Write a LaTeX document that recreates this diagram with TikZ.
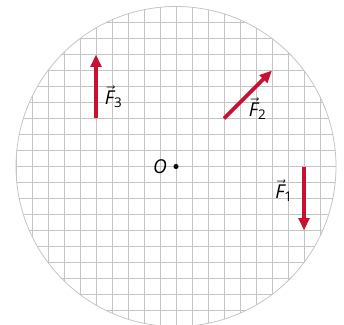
\documentclass[tikz,border=0pt]{standalone}
\usepackage{amsmath}
\usepackage{fontspec}
\setmainfont{Open Sans}
\usepackage{tikz}
\usetikzlibrary{arrows.meta, positioning}
\usepackage{xcolor}
\definecolor{forcered}{RGB}{200,16,50}
\definecolor{gridgray}{RGB}{196,196,196}
\newcommand{\fvec}[1]{$\vec{\textit{F}}_{\text{#1}}$}

\begin{document}
\begin{tikzpicture}[x=0.5cm, y=0.5cm,
  force/.style={line width=3.4pt, forcered, -{Triangle[length=11pt, width=9.5pt]}},
  flabel/.style={font=\fontsize{17}{20}\selectfont}]
  \useasboundingbox (-11,-9.844) rectangle (10.5,10.406);
  % disc with grid
  \begin{scope}
    \clip (0,0) circle (10);
    \draw[gridgray, line width=0.7pt, step=0.5cm] (-11,-11) grid (11,11);
  \end{scope}
  \draw[gridgray, line width=0.7pt] (0,0) circle (10);
  % point O
  \node[circle, fill=black, inner sep=0pt, minimum size=4.5pt] (o) at (0,0) {};
  \node[flabel, left=2pt of o] (olab) {\textit{O}};
  % forces
  \coordinate (f1a) at (8,0);
  \coordinate (f1b) at (8,-4);
  \coordinate (f2a) at (3,3);
  \coordinate (f2b) at (6,6);
  \coordinate (f3a) at (-5,3);
  \coordinate (f3b) at (-5,7);
  \draw[force] (f1a) -- (f1b);
  \draw[force] (f2a) -- (f2b);
  \draw[force] (f3a) -- (f3b);
  \node[flabel] (f1lab) at (6.75,-1.5) {\fvec{1}};
  \node[flabel] (f2lab) at (5.1,3.6) {\fvec{2}};
  \node[flabel] (f3lab) at (-3.9,4.35) {\fvec{3}};
\end{tikzpicture}
\end{document}
